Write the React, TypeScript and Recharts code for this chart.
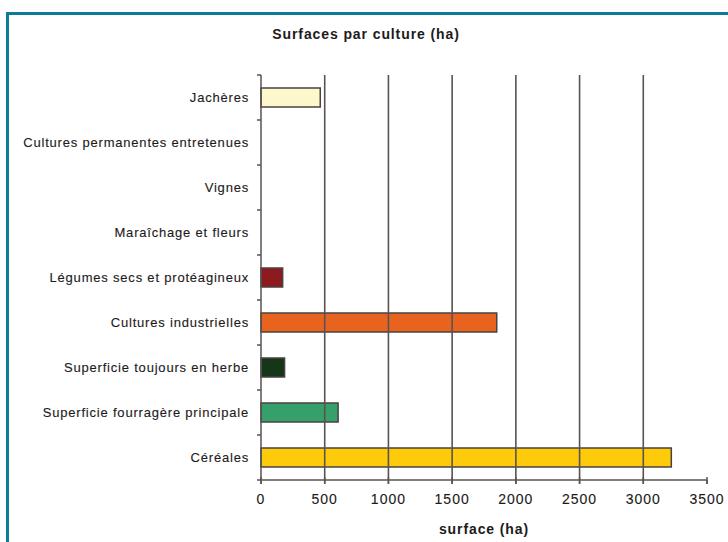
import { Bar, BarChart, Cell, ReferenceLine, XAxis, YAxis } from "recharts";

const categories = [
  "Jachères",
  "Cultures permanentes entretenues",
  "Vignes",
  "Maraîchage et fleurs",
  "Légumes secs et protéagineux",
  "Cultures industrielles",
  "Superficie toujours en herbe",
  "Superficie fourragère principale",
  "Céréales",
];
const surfaces = [465, 0, 0, 0, 170, 1850, 185, 605, 3220];
const barColors = [
  "#fdf8cc",
  "#cccccc",
  "#cccccc",
  "#cccccc",
  "#8c1a1f",
  "#e8641e",
  "#16361a",
  "#35a06a",
  "#fdcb0a",
];
const xTicks = [0, 500, 1000, 1500, 2000, 2500, 3000, 3500];
const gridValues = [500, 1000, 1500, 2000, 2500, 3000];

const rows = categories.map((name, i) => ({ name, surface: surfaces[i] }));

const FONT = "'Liberation Sans', Arial, sans-serif";
const INK = "#1e1a1a";
const LINE = "#5a5252";

function CategoryTick(props: any) {
  const { x, y, payload, index } = props;
  const half = payload.offset ?? 0;
  return (
    <g>
      <text
        x={x}
        y={y}
        dy={4.5}
        textAnchor="end"
        fontFamily={FONT}
        fontSize={13}
        letterSpacing={0.8}
        fill={INK}
        stroke={INK}
        strokeWidth={0.12}
      >
        {payload.value}
      </text>
      <line x1={x + 8} x2={x + 12} y1={y - half} y2={y - half} stroke={LINE} strokeWidth={1.5} />
      {index === categories.length - 1 && (
        <line x1={x + 8} x2={x + 12} y1={y + half} y2={y + half} stroke={LINE} strokeWidth={1.5} />
      )}
    </g>
  );
}

function ValueTick(props: any) {
  const { x, y, payload } = props;
  return (
    <g>
      <line x1={x} x2={x} y1={y - 17} y2={y - 10} stroke={LINE} strokeWidth={1.5} />
      <text
        x={x}
        y={y}
        dy={10}
        textAnchor="middle"
        fontFamily={FONT}
        fontSize={14}
        letterSpacing={1}
        fill={INK}
        stroke={INK}
        strokeWidth={0.12}
      >
        {payload.value}
      </text>
    </g>
  );
}

export default function App() {
  return (
    <div
      style={{
        position: "absolute",
        left: 0,
        top: 0,
        width: 728,
        height: 542,
        overflow: "hidden",
        background: "#fff",
      }}
    >
      <div
        style={{
          position: "absolute",
          left: 6,
          top: 12,
          width: 800,
          height: 600,
          borderTop: "3px solid #0d7b98",
          borderLeft: "3px solid #0d7b98",
        }}
      />
      <div
        style={{
          position: "absolute",
          left: 0,
          top: 26,
          width: 732,
          textAlign: "center",
          fontFamily: FONT,
          fontWeight: "bold",
          fontSize: 14,
          letterSpacing: 0.9,
          color: INK,
        }}
      >
        Surfaces par culture (ha)
      </div>
      <div style={{ position: "absolute", left: 0, top: 0 }}>
        <BarChart
          width={728}
          height={542}
          data={rows}
          layout="vertical"
          margin={{ top: 75, right: 21, bottom: 0, left: 0 }}
          barSize={19}
        >
          <XAxis
            type="number"
            domain={[0, 3500]}
            ticks={xTicks}
            height={62}
            axisLine={{ stroke: LINE, strokeWidth: 1.5 }}
            tickLine={{ stroke: LINE, strokeWidth: 1.5 }}
            tickSize={4}
            tickMargin={10}
            tick={<ValueTick />}
            label={{
              value: "surface (ha)",
              position: "insideBottom",
              offset: 8,
              fill: INK,
              fontSize: 14,
              fontWeight: "bold",
              fontFamily: FONT,
              letterSpacing: 0.9,
            }}
          />
          <YAxis
            type="category"
            dataKey="name"
            width={261}
            axisLine={{ stroke: LINE, strokeWidth: 1.5 }}
            tickLine={false}
            tickSize={4}
            tickMargin={8}
            interval={0}
            tick={<CategoryTick />}
          />
          {gridValues.map((v) => (
            <ReferenceLine key={v} x={v} stroke={LINE} strokeWidth={1.6} />
          ))}
          <Bar dataKey="surface" stroke="#4a4242" strokeWidth={1.5} isAnimationActive={false}>
            {rows.map((r, i) => (
              <Cell key={r.name} fill={barColors[i]} />
            ))}
          </Bar>
        </BarChart>
      </div>
    </div>
  );
}
